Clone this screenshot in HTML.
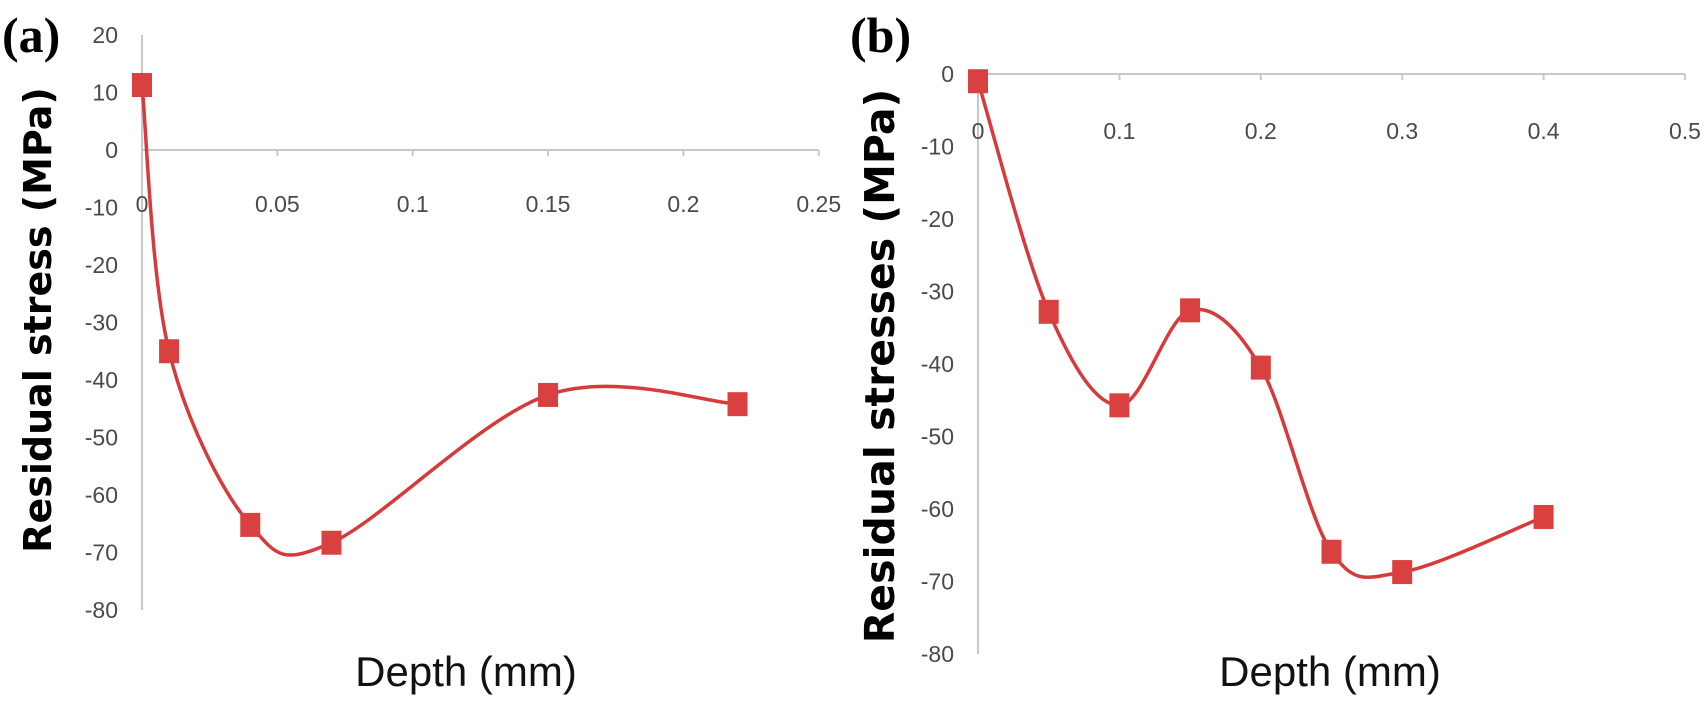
<!DOCTYPE html>
<html><head><meta charset="utf-8"><style>
body{margin:0;background:#fff;}
svg{display:block;}
.tick{font-family:"Liberation Sans Narrow","Liberation Sans",sans-serif;font-size:23px;fill:#4a4a4a;}
.ttl{font-family:"DejaVu Sans","Liberation Sans",sans-serif;font-weight:bold;fill:#000;}
.xt{font-family:"Liberation Sans Narrow","Liberation Sans",sans-serif;font-size:42px;fill:#111;}
.pl{font-family:"Liberation Serif",serif;font-weight:bold;font-size:50px;fill:#000;}
</style></head><body>
<svg id="chart" width="1705" height="702" xmlns="http://www.w3.org/2000/svg">
<text class="pl" x="2" y="52">(a)</text>
<text class="pl" x="850" y="52">(b)</text>
<text class="ttl" font-size="38" transform="translate(51,320) rotate(-90)" text-anchor="middle">Residual stress (MPa)</text>
<text class="ttl" font-size="41" transform="translate(894,366) rotate(-90)" text-anchor="middle">Residual stresses (MPa)</text>
<text class="xt" x="466" y="686" text-anchor="middle">Depth (mm)</text>
<text class="xt" x="1330" y="686" text-anchor="middle">Depth (mm)</text>
<g id="pa"></g><g id="pb"></g>
</svg>
<script>
const depthA=[0,0.01,0.04,0.07,0.15,0.22];
const stressA=[11.3,-35,-65.2,-68.3,-42.6,-44.2];
const xTicksA=[0,0.05,0.1,0.15,0.2,0.25];
const yTicksA=[20,10,0,-10,-20,-30,-40,-50,-60,-70,-80];
const depthB=[0,0.05,0.1,0.15,0.2,0.25,0.3,0.4];
const stressB=[-1,-32.8,-45.7,-32.6,-40.5,-65.9,-68.7,-61.1];
const xTicksB=[0,0.1,0.2,0.3,0.4,0.5];
const yTicksB=[0,-10,-20,-30,-40,-50,-60,-70,-80];
const NS="http://www.w3.org/2000/svg";
function mk(p,t,a){const e=document.createElementNS(NS,t);for(const k in a)e.setAttribute(k,a[k]);p.appendChild(e);return e;}
function draw(g,cfg,xs,ys,xt,yt){
  const X=v=>cfg.x0+v*cfg.kx, Y=v=>cfg.y0-v*cfg.ky;
  const ax=mk(g,'line',{x1:X(0),x2:X(0),y1:Y(yt[0]),y2:Y(yt[yt.length-1]),stroke:'#c8c8c8','stroke-width':2});
  
  
  const hx=mk(g,'line',{x1:X(0),x2:X(xt[xt.length-1]),y1:Y(0),y2:Y(0),stroke:'#c8c8c8','stroke-width':2});
  
  
  xt.forEach(v=>{
    mk(g,'line',{x1:X(v),x2:X(v),y1:Y(0),y2:Y(0)+6,stroke:'#c8c8c8','stroke-width':2});
    const t=mk(g,'text',{class:'tick',x:X(v),y:Y(0)+cfg.xlo,'text-anchor':'middle'});t.textContent=v;
    
    
  });
  yt.forEach(v=>{
    const t=mk(g,'text',{class:'tick',x:X(0)-cfg.ylo,y:Y(v)+8,'text-anchor':'end'});t.textContent=v;
    
    
  });
  const P=xs.map((v,i)=>[X(v),Y(ys[i])]);
  let d=`M${P[0][0]},${P[0][1]}`;
  for(let i=0;i<P.length-1;i++){
    const p0=P[i-1]||P[i],p1=P[i],p2=P[i+1],p3=P[i+2]||P[i+1],s=6;
    d+=` C${p1[0]+(p2[0]-p0[0])/s},${p1[1]+(p2[1]-p0[1])/s} ${p2[0]-(p3[0]-p1[0])/s},${p2[1]-(p3[1]-p1[1])/s} ${p2[0]},${p2[1]}`;
  }
  const ln=mk(g,'path',{d:d,fill:'none',stroke:'#d63a3a','stroke-width':3.5});
  
  
  P.forEach(p=>{
    const r=mk(g,'rect',{x:p[0]-10,y:p[1]-12,width:20,height:24,fill:'#d94040'});
    
    
  });
}
draw(document.getElementById('pa'),{x0:142,kx:2707,y0:150,ky:5.75,xlo:62,ylo:24},depthA,stressA,xTicksA,yTicksA);
draw(document.getElementById('pb'),{x0:978,kx:1414,y0:74,ky:7.25,xlo:65,ylo:24},depthB,stressB,xTicksB,yTicksB);
</script>
</body></html>
